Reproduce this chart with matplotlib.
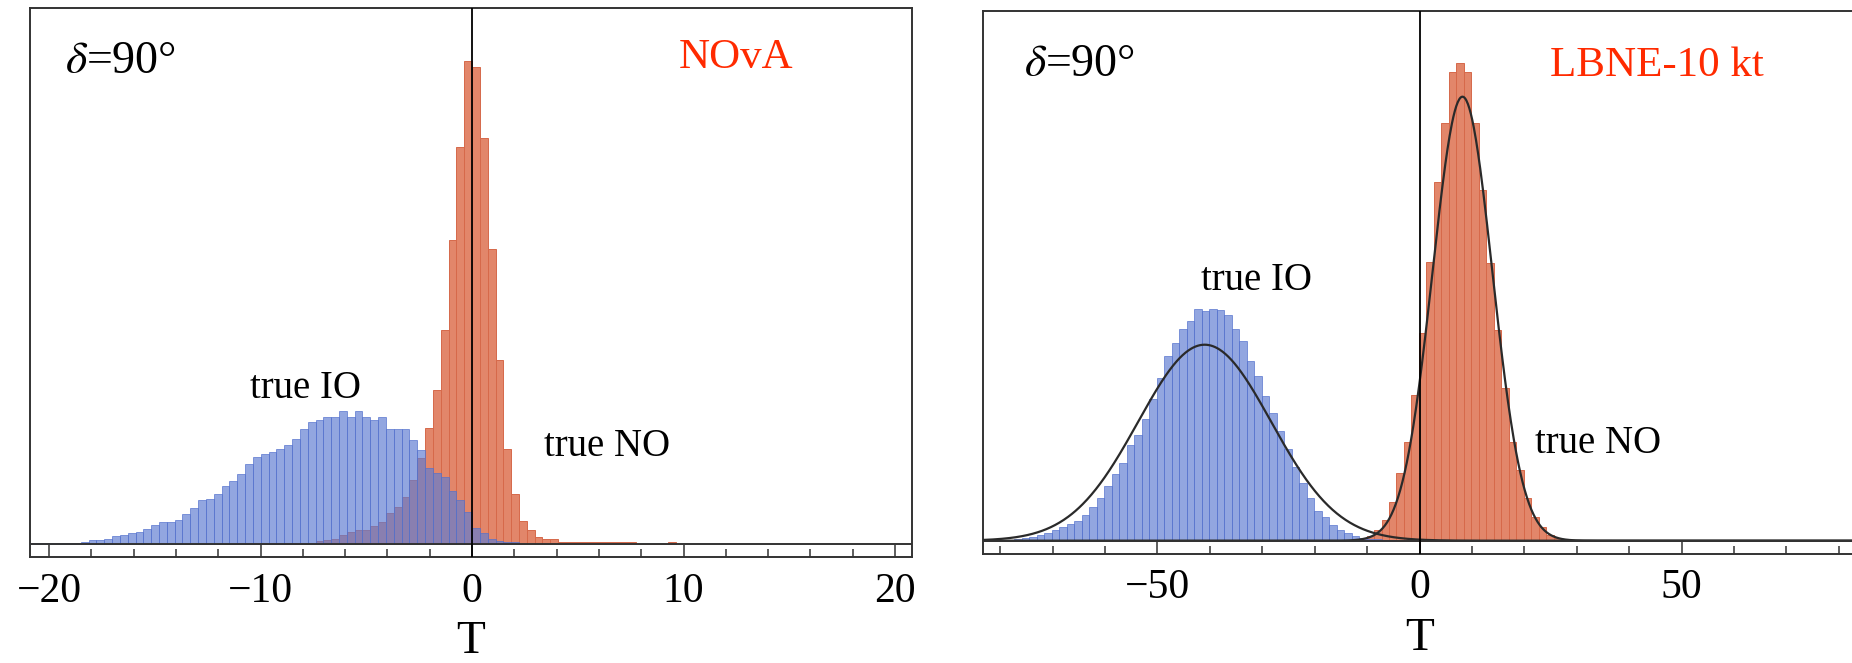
import numpy as np
import matplotlib.pyplot as plt

plt.rcParams['font.family'] = ['Liberation Serif', 'DejaVu Serif']
plt.rcParams['mathtext.fontset'] = 'stix'

# ---- NOvA panel: histogram heights (arbitrary units), bin width 0.37, edges at multiples of the width
nova_bin_width = 0.37
nova_no_first_bin = -38
nova_no_counts = [0.5, 0.5, 0.5, 0.5, 0.5, 0.5, 0.5, 0.5,
                  1, 1, 1, 1, 1, 1, 1, 1, 1, 1.5,
                  3, 4, 5, 9, 12, 14, 14, 18, 22, 31, 37, 47, 64, 86, 116, 154, 214, 304, 397, 483,
                  477, 406, 295, 184, 95, 50, 23, 14, 7, 5, 5,
                  2, 2, 2, 2, 2, 2, 2, 2, 2, 2,
                  0, 0, 0, 0, 2]
nova_io_first_bin = -57
nova_io_counts = [1.5, 1.5, 1.5, 1.5, 1.5, 1.5, 1.5,
                  2, 4, 4.3, 5, 7.7, 9, 11, 12, 15, 19, 22, 22, 24, 30, 36, 44, 45, 50, 58, 63, 70,
                  80, 87, 90, 92, 95, 99, 105, 115, 122, 124, 127, 127, 133, 127, 133, 127, 124, 127,
                  115, 115, 115, 104, 94, 76, 71, 67, 53, 44, 32,
                  16, 11, 5, 3, 2, 2]

# ---- LBNE-10 kt panel: bin width 1.43, edges at -0.1 + k*width
lbne_bin_width = 1.43
lbne_edge_offset = -0.1
lbne_no_first_bin = -8
lbne_no_counts = [2, 5, 11, 21, 39, 68, 99, 146, 208, 279, 359, 418, 469, 478, 469, 418,
                  351, 278, 211, 153, 99, 71, 43, 24, 14, 6, 3]
lbne_io_first_bin = -56
lbne_io_counts = [1, 1, 2, 3, 4, 6, 8, 11, 14, 17, 20, 26, 34, 43, 55, 67, 78, 96, 106, 122,
                  142, 163, 185, 198, 212, 220, 232, 230, 232, 231, 226, 212, 200, 180, 165,
                  145, 128, 110, 92, 74, 58, 43, 30, 24, 16, 11, 8, 5, 3, 2, 2, 1, 1]

# Gaussian fits drawn on the LBNE panel: (mean, sigma, peak height)
lbne_io_fit = (-41.0, 12.7, 196)
lbne_no_fit = (8.2, 5.7, 444)

BLUE = '#5f7cd2'
BLUE_EDGE = '#5270cc'
ORANGE = '#e2866a'
ORANGE_EDGE = '#d6694a'
FRAME = '#333333'
RED_TXT = '#ff2a00'

W, H = 1852, 663
fig = plt.figure(figsize=(W / 100, H / 100), dpi=100)
ax1 = fig.add_axes([30 / W, (H - 557) / H, 882 / W, 549 / H])
ax2 = fig.add_axes([983 / W, (H - 553.5) / H, 873 / W, 543 / H])


def draw_hist(ax, first_bin, counts, width, offset, face, edge, alpha, z):
    left = offset + (first_bin + np.arange(len(counts))) * width
    ax.bar(left, counts, width=width, align='edge', color=face, edgecolor=edge,
           linewidth=0.7, alpha=alpha, zorder=z)


# left panel
draw_hist(ax1, nova_no_first_bin, nova_no_counts, nova_bin_width, 0.0, ORANGE, ORANGE_EDGE, 1.0, 2)
draw_hist(ax1, nova_io_first_bin, nova_io_counts, nova_bin_width, 0.0, BLUE, BLUE_EDGE, 0.68, 3)
ax1.set_xlim(-20.9, 20.8)
ax1.set_ylim(-13, 536)
ax1.set_xticks([-20, -10, 0, 10, 20])
ax1.set_xticks(np.arange(-20, 21, 2), minor=True)

# right panel
draw_hist(ax2, lbne_no_first_bin, lbne_no_counts, lbne_bin_width, lbne_edge_offset, ORANGE, ORANGE_EDGE, 1.0, 2)
draw_hist(ax2, lbne_io_first_bin, lbne_io_counts, lbne_bin_width, lbne_edge_offset, BLUE, BLUE_EDGE, 0.68, 3)
xs = np.linspace(-83.3, 83.3, 1200)
for mu, sig, pk in (lbne_io_fit, lbne_no_fit):
    ax2.plot(xs, pk * np.exp(-0.5 * ((xs - mu) / sig) ** 2), color='#2a2a2a', lw=1.6, zorder=5)
ax2.set_xlim(-83.3, 83.3)
ax2.set_ylim(-12.8, 530.2)
ax2.set_xticks([-50, 0, 50])
ax2.set_xticks(np.arange(-80, 81, 10), minor=True)

for ax in (ax1, ax2):
    ax.axhline(0, color=FRAME, lw=1.4, zorder=6)
    ax.axvline(0, color='black', lw=1.3, zorder=6)
    for sp in ax.spines.values():
        sp.set_color(FRAME)
        sp.set_linewidth(1.4)
    ax.set_yticks([])
    ax.tick_params(axis='x', which='both', direction='in', top=False, color=FRAME,
                   labelsize=30, pad=11, width=1.1)
    ax.tick_params(axis='x', which='major', length=9)
    ax.tick_params(axis='x', which='minor', length=5.5)
    ax.set_xlabel('T', fontsize=34, labelpad=7)

# annotations
ax1.text(-16.6, 482, r'$\delta$=90°', fontsize=33, ha='center', va='center')
ax1.text(12.46, 486, 'NOvA', fontsize=31, color=RED_TXT, ha='center', va='center')
ax1.text(-7.87, 156, 'true IO', fontsize=28, ha='center', va='center')
ax1.text(6.39, 98, 'true NO', fontsize=28, ha='center', va='center')

ax2.text(-64.9, 476, r'$\delta$=90°', fontsize=33, ha='center', va='center')
ax2.text(45.3, 475, 'LBNE-10 kt', fontsize=31, color=RED_TXT, ha='center', va='center')
ax2.text(-31.2, 260, 'true IO', fontsize=28, ha='center', va='center')
ax2.text(34.1, 97, 'true NO', fontsize=28, ha='center', va='center')

fig.savefig('out.png', dpi=100)
